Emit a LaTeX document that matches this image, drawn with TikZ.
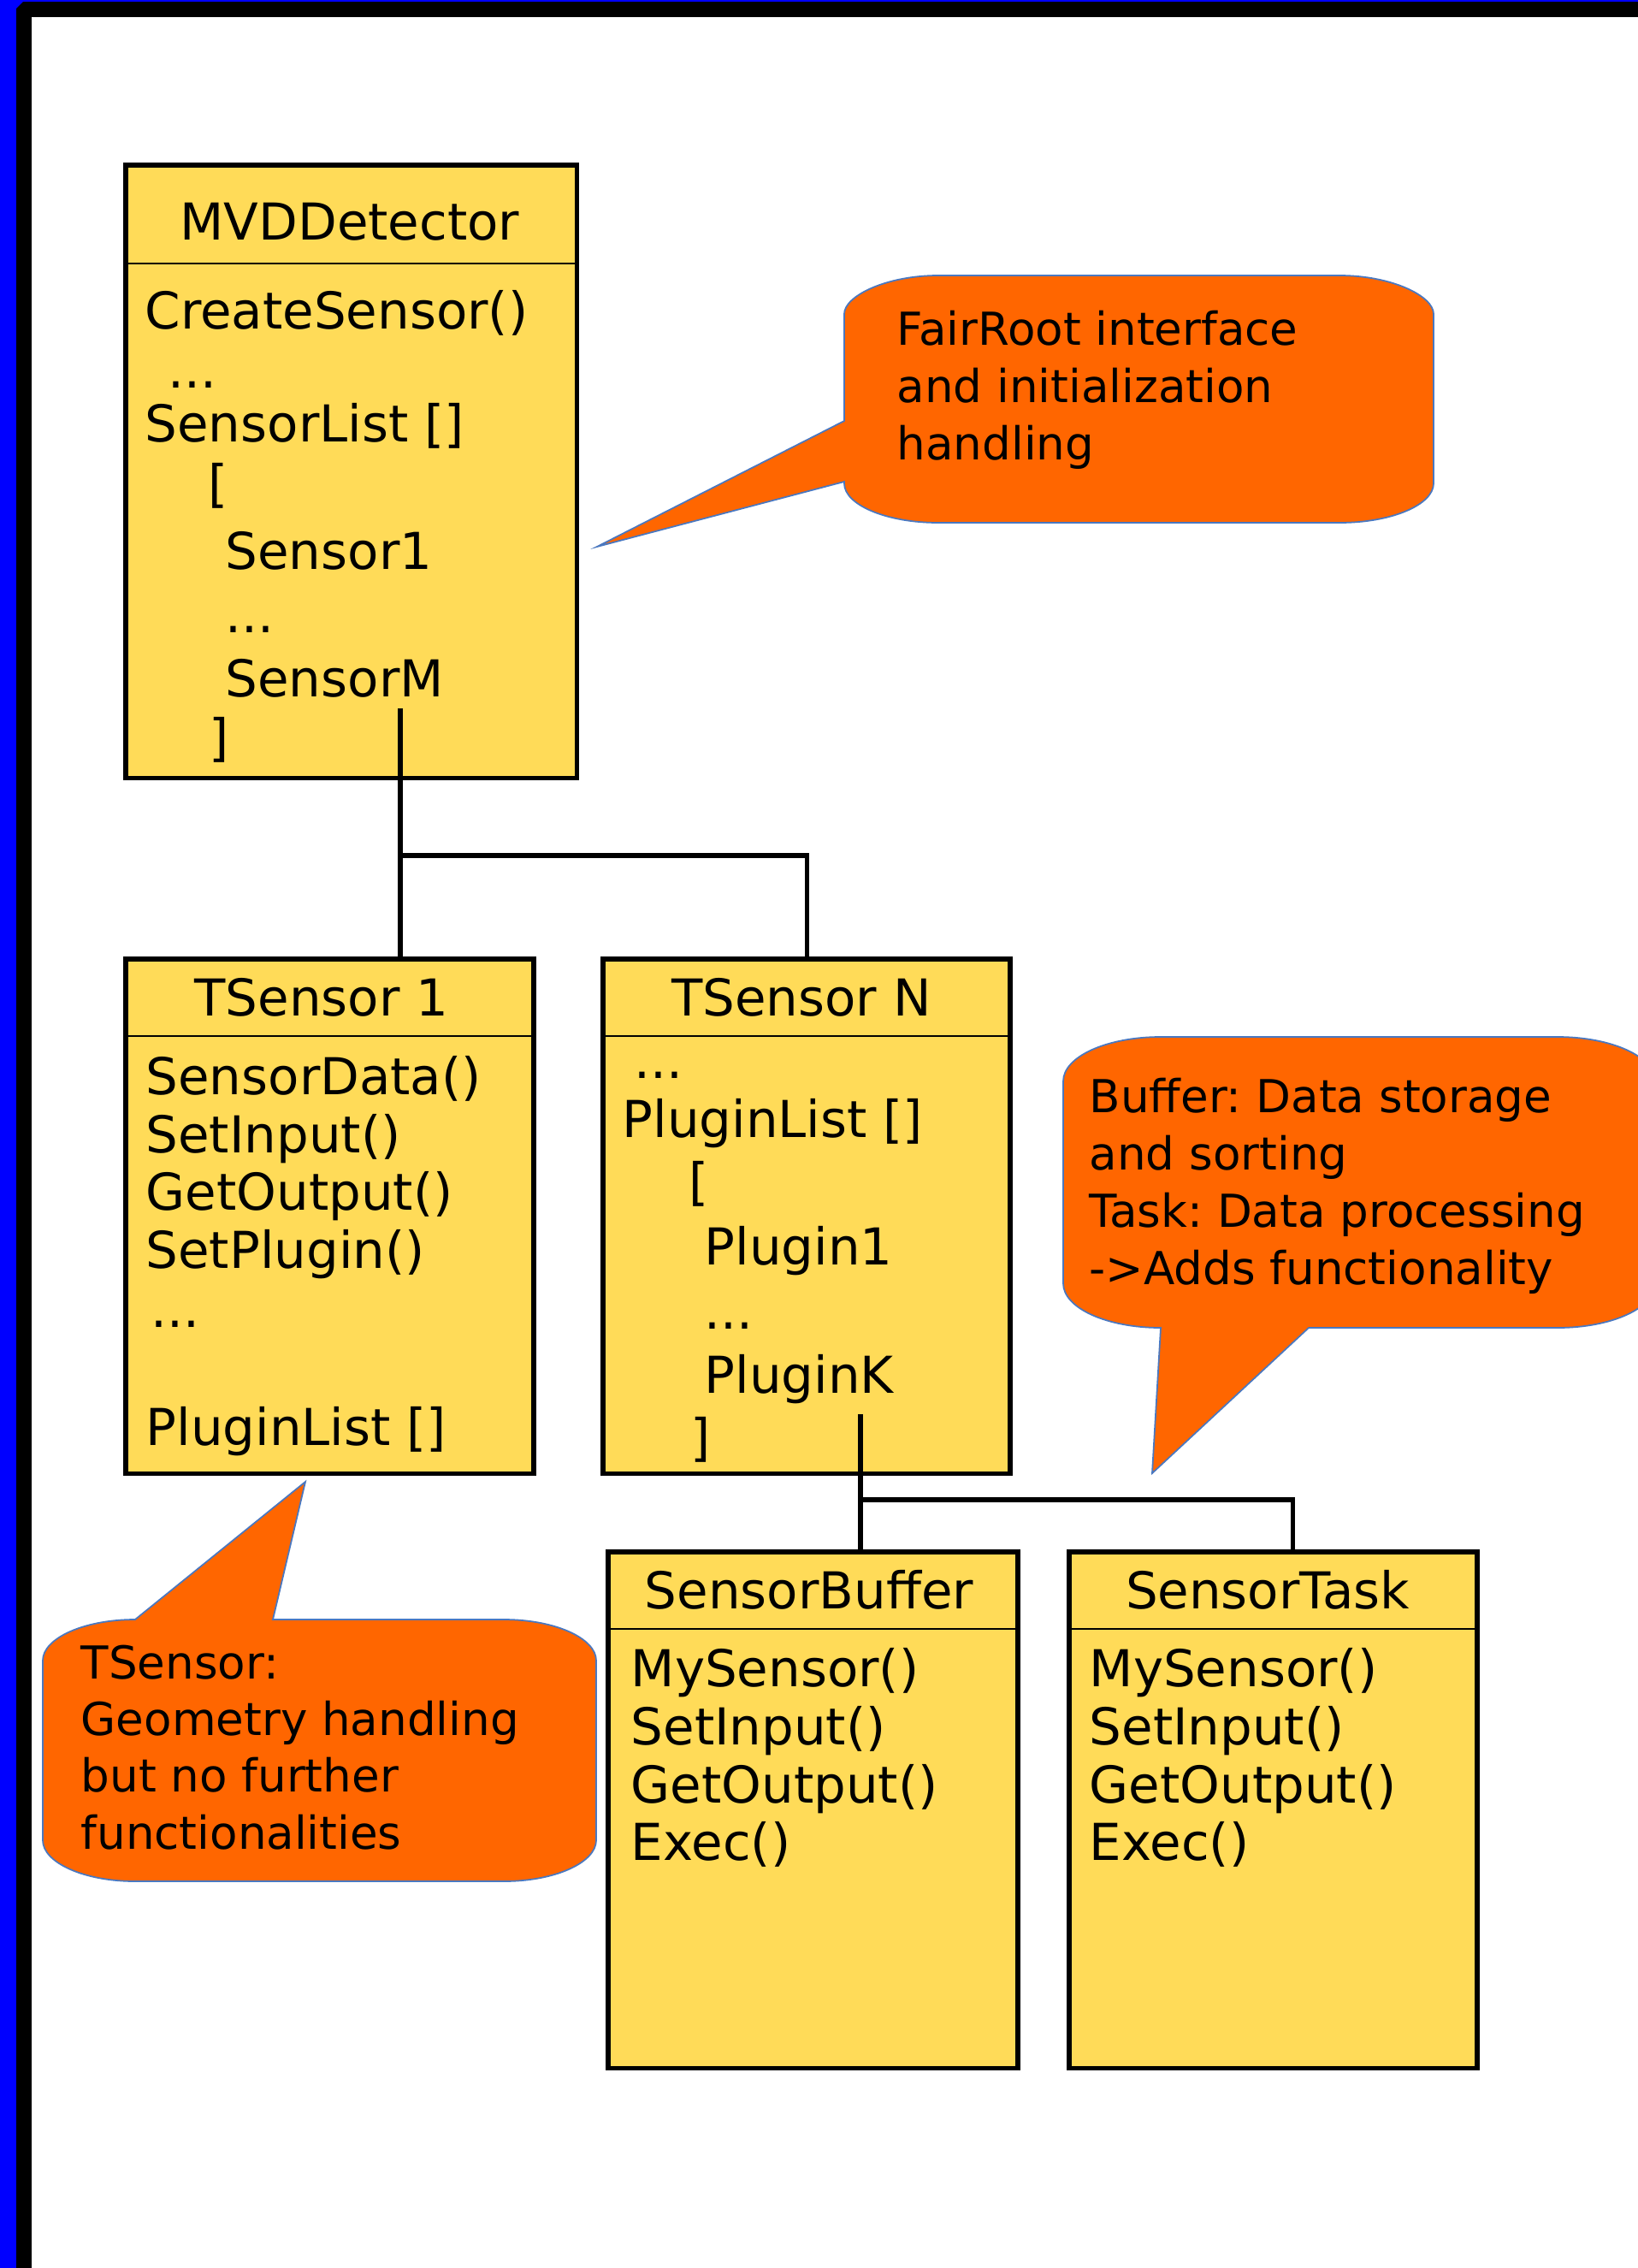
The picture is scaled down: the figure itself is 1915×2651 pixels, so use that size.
\documentclass[tikz,border=0pt]{standalone}
\usepackage{fontspec}
\setmainfont{DejaVu Sans}
\frenchspacing
\definecolor{frameBlue}{HTML}{0000FF}
\definecolor{boxYellow}{HTML}{FFDB58}
\definecolor{noteOrange}{HTML}{FF6600}
\definecolor{noteEdge}{HTML}{4A78C0}

\begin{document}
\begin{tikzpicture}[x=0.01cm, y=-0.01cm,
  classbox/.style={draw, line width=1.6pt, fill=boxYellow, anchor=north west, inner sep=0pt, outer sep=0pt},
  sepline/.style={line width=0.4pt},
  wire/.style={line width=1.5pt},
  note/.style={fill=noteOrange, draw=noteEdge, line width=0.5pt},
  boxtitle/.style={anchor=base, inner sep=0pt, font=\fontsize{16.9}{20}\selectfont},
  boxtext/.style={anchor=base west, inner sep=0pt, font=\fontsize{16.9}{20}\selectfont},
  notetext/.style={anchor=base west, inner sep=0pt, font=\fontsize{15.1}{18}\selectfont}]
  \useasboundingbox (0,0) rectangle (1915,2651);
  \clip (0,0) rectangle (1915,2651);
  % page frame
  \fill[frameBlue] (0,0) rectangle (1915,2651);
  \fill[black] (19,10) -- (27,2) -- (1915,2) -- (1915,20) -- (37,20) -- (37,2651) -- (19,2651) -- cycle;
  \fill[white] (37,20) rectangle (1915,2651);

  % Callouts
  \filldraw[note] (987,367) .. controls (987,346) and (1036,322) .. (1097,322) -- (1566,322)
    .. controls (1627,322) and (1676,346) .. (1676,367) -- (1676,565)
    .. controls (1676,590) and (1627,611) .. (1566,611) -- (1097,611)
    .. controls (1036,611) and (987,590) .. (987,565) -- (987,563) -- (698,639) -- (987,492) -- cycle;
  \filldraw[note] (1243,1264) .. controls (1243,1235) and (1294,1212) .. (1357,1212) -- (1821,1212)
    .. controls (1884,1212) and (1935,1235) .. (1935,1264) -- (1935,1500)
    .. controls (1935,1529) and (1884,1552) .. (1821,1552) -- (1530,1552) -- (1347,1722) -- (1357,1552)
    .. controls (1294,1552) and (1243,1529) .. (1243,1500) -- cycle;
  \filldraw[note] (50,1941) .. controls (50,1915) and (98,1893) .. (158,1893) -- (357,1732) -- (319,1893)
    -- (589,1893) .. controls (649,1893) and (697,1915) .. (697,1941) -- (697,2151)
    .. controls (697,2177) and (649,2199) .. (589,2199) -- (158,2199)
    .. controls (98,2199) and (50,2177) .. (50,2151) -- cycle;

  % Class boxes
  \node[classbox, minimum width=5.27cm, minimum height=7.16cm] (mvd) at (147,193) {};
  \node[classbox, minimum width=4.77cm, minimum height=6.01cm] (tsone) at (147,1121) {};
  \node[classbox, minimum width=4.76cm, minimum height=6.01cm] (tsn) at (705,1121) {};
  \node[classbox, minimum width=4.79cm, minimum height=6.03cm] (sbuf) at (711,1814) {};
  \node[classbox, minimum width=4.77cm, minimum height=6.03cm] (stask) at (1250,1814) {};
  \draw[sepline] (147,308) -- (674,308);
  \draw[sepline] (147,1211) -- (624,1211);
  \draw[sepline] (705,1211) -- (1181,1211);
  \draw[sepline] (711,1904) -- (1190,1904);
  \draw[sepline] (1250,1904) -- (1727,1904);

  % Connectors
  \coordinate (mvdport) at (468,828);
  \coordinate (mvdsplit) at (468,1000);
  \draw[wire] (mvdport) -- (mvdport |- tsone.north);
  \draw[wire] (mvdsplit) -| (tsn.north);
  \coordinate (tsnport) at (1006,1653);
  \coordinate (tsnsplit) at (1006,1753);
  \draw[wire] (tsnport) -- (tsnport |- sbuf.north);
  \draw[wire] (tsnsplit) -| ([xshift=0.23cm]stask.north);

  % Box texts
  \node[boxtitle] (mvdtitle) at (409,280) {MVDDetector};
  \foreach \y/\x/\txt [count=\i] in {384/169/{CreateSensor()}, 453/196/{...}, 516/169/{SensorList []},
      586/243/{[}, 665/263/{Sensor1}, 739/263/{...}, 814/263/{SensorM}, 883/244/{]}}
    \node[boxtext] (mvdline\i) at (\x,\y) {\txt};
  \node[boxtitle] (tsonetitle) at (376,1187) {TSensor 1};
  \foreach \y/\x/\txt [count=\i] in {1279/170/{SensorData()}, 1347/170/{SetInput()}, 1414/170/{GetOutput()},
      1482/170/{SetPlugin()}, 1551/176/{...}, 1689/170/{PluginList []}}
    \node[boxtext] (tsoneline\i) at (\x,\y) {\txt};
  \node[boxtitle] (tsntitle) at (937,1187) {TSensor N};
  \foreach \y/\x/\txt [count=\i] in {1260/741/{...}, 1329/727/{PluginList []}, 1402/805/{[}, 1478/823/{Plugin1},
      1553/823/{...}, 1628/823/{PluginK}, 1701/807/{]}}
    \node[boxtext] (tsnline\i) at (\x,\y) {\txt};
  \node[boxtitle] (sbuftitle) at (946,1880) {SensorBuffer};
  \node[boxtitle] (stasktitle) at (1482,1880) {SensorTask};
  \foreach \y/\txt [count=\i] in {1971/{MySensor()}, 2039/{SetInput()}, 2107/{GetOutput()}, 2174/{Exec()}} {
    \node[boxtext] (sbufline\i) at (737,\y) {\txt};
    \node[boxtext] (staskline\i) at (1273,\y) {\txt};
  }

  % Callout texts
  \foreach \y/\txt [count=\i] in {403/{FairRoot interface}, 470/{and initialization}, 537/{handling}}
    \node[notetext] (fairnote\i) at (1048,\y) {\txt};
  \foreach \y/\txt [count=\i] in {1300/{Buffer: Data storage}, 1367/{and sorting}, 1434/{Task: Data processing},
      1501/{->Adds functionality}}
    \node[notetext] (bufnote\i) at (1273,\y) {\txt};
  \foreach \y/\txt [count=\i] in {1962/{TSensor:}, 2028/{Geometry handling}, 2094/{but no further},
      2161/{functionalities}}
    \node[notetext] (tsnote\i) at (94,\y) {\txt};
\end{tikzpicture}
\end{document}
